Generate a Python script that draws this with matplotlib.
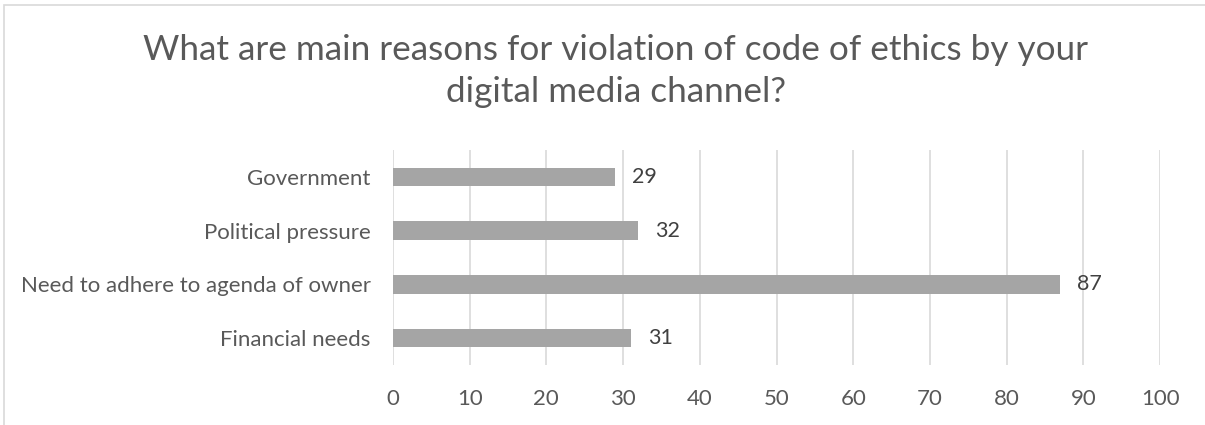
import matplotlib.pyplot as plt
from matplotlib.patches import Rectangle

# survey answers, bottom to top as drawn
reasons = ['Financial needs', 'Need to adhere to agenda of owner',
           'Political pressure', 'Government']
counts = [31, 87, 32, 29]
x_ticks = [0, 10, 20, 30, 40, 50, 60, 70, 80, 90, 100]

plt.rcParams['font.family'] = ['Lato', 'DejaVu Sans']

fig = plt.figure(figsize=(12.05, 4.25), dpi=100)
ax = fig.add_axes([0.3261, 0.1412, 0.6366, 0.5059])

# light frame around the chart area
fig.patches.append(Rectangle((4 / 1205, -0.1), 1.2, 1 - 5 / 425 + 0.1,
                             transform=fig.transFigure, fill=False,
                             edgecolor='#D9D9D9', linewidth=1.2))

bars = ax.barh(range(len(reasons)), counts, height=0.34, color='#A5A5A5', zorder=3)
for bar, val in zip(bars, counts):
    ax.text(bar.get_width() + 2.2, bar.get_y() + bar.get_height() / 2, str(val),
            va='center', ha='left', fontsize=15.5, color='#404040')

ax.set_xlim(0, 100)
ax.set_ylim(-0.5, 3.5)
ax.set_xticks(x_ticks)
ax.set_yticks(range(len(reasons)))
ax.set_yticklabels(reasons)
ax.tick_params(axis='both', length=0, labelsize=16, labelcolor='#595959')
ax.tick_params(axis='x', pad=17)
ax.tick_params(axis='y', pad=16)
ax.xaxis.grid(True, color='#D9D9D9', linewidth=1.2, zorder=0)
for s in ax.spines.values():
    s.set_visible(False)

fig.text(0.511, 0.833, 'What are main reasons for violation of code of ethics by your\ndigital media channel?',
         ha='center', va='center', fontsize=25.3, color='#595959', linespacing=1.42)

fig.savefig('out.png', dpi=100)
